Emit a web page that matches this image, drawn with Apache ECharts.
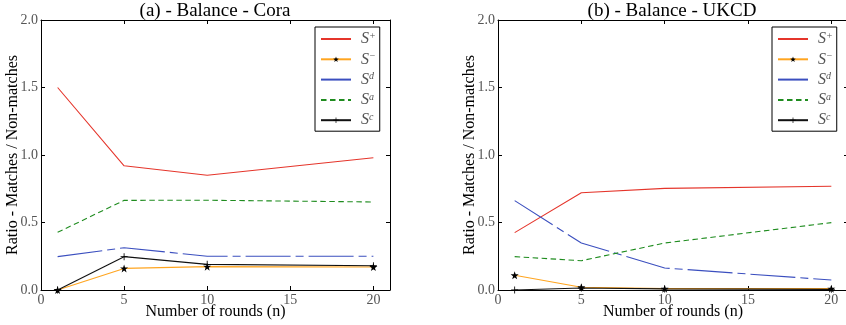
<!DOCTYPE html>
<html>
<head>
<meta charset="utf-8">
<script src="https://cdn.jsdelivr.net/npm/echarts@6/dist/echarts.min.js"></script>
<style>
  html, body { margin: 0; padding: 0; background: #fff; }
  #chart { width: 846px; height: 325px; }
</style>
</head>
<body>
<div id="chart"></div>
<script>
// x positions (number of rounds)
const rounds = [1, 5, 10, 20];
const seriesNames = ["S+", "S\u2212", "Sd", "Sa", "Sc"];
const xTicks = [0, 5, 10, 15, 20];
const yTicks = [0.0, 0.5, 1.0, 1.5, 2.0];

// (a) Cora
const coraPlus = [1.50, 0.92, 0.85, 0.98];
const coraMinus = [0.0, 0.16, 0.173, 0.17];
const coraD = [0.247, 0.313, 0.25, 0.25];
const coraA = [0.427, 0.664, 0.665, 0.652];
const coraC = [0.0, 0.247, 0.19, 0.18];

// (b) UKCD
const ukcdPlus = [0.425, 0.72, 0.753, 0.768];
const ukcdMinus = [0.109, 0.02, 0.01, 0.01];
const ukcdD = [0.662, 0.348, 0.163, 0.074];
const ukcdA = [0.247, 0.217, 0.348, 0.499];
const ukcdC = [0.0, 0.015, 0.008, 0.005];

const FONT = "'Liberation Serif', 'DejaVu Serif', serif";
const STAR = "path://M0,-10L2.35,-3.24L9.51,-3.09L3.8,1.24L5.88,8.09L0,4L-5.88,8.09L-3.8,1.24L-9.51,-3.09L-2.35,-3.24Z";
const PLUS = "path://M-1.2,-10H1.2V-1.2H10V1.2H1.2V10H-1.2V1.2H-10V-1.2H-1.2Z";

const styles = [
  { color: "#e5352b", type: "solid", symbol: "none" },
  { color: "#ffa520", type: "solid", symbol: STAR, symbolSize: 8 },
  { color: "#3b4fbf", type: [45, 5, 8, 5], symbol: "none" },
  { color: "#1f8c1f", type: [5.5, 3.5], symbol: "none" },
  { color: "#111111", type: "solid", symbol: PLUS, symbolSize: 7 }
];

const panels = [
  { title: "(a) - Balance - Cora", left: 41, width: 349, values: [coraPlus, coraMinus, coraD, coraA, coraC] },
  { title: "(b) - Balance - UKCD", left: 498, width: 350, values: [ukcdPlus, ukcdMinus, ukcdD, ukcdA, ukcdC] }
];

const grids = [], xAxes = [], yAxes = [], series = [], texts = [], legends = [];

panels.forEach((p, i) => {
  grids.push({ left: p.left, top: 20, width: p.width, height: 270, outerBoundsMode: "none", containLabel: false });
  texts.push({
    type: "text", x: p.left + 174, y: 11,
    style: { text: p.title, fontFamily: FONT, fontSize: 19, fill: "#000", align: "center", verticalAlign: "middle" }
  });
  const tickStyle = { show: true, inside: true, length: 4, lineStyle: { color: "#000", width: 1 } };
  const common = { min: 0, max: 21, interval: 5, gridIndex: i, splitLine: { show: false },
    axisLine: { show: true, onZero: false, lineStyle: { color: "#000", width: 1 } }, axisTick: tickStyle };
  xAxes.push(Object.assign({}, common, {
    type: "value", position: "bottom",
    name: "Number of rounds (n)", nameLocation: "middle", nameGap: 14, nameMoveOverlap: false,
    nameTextStyle: { fontFamily: FONT, fontSize: 16, color: "#000" },
    axisLabel: { show: true, showMaxLabel: false, margin: 3, color: "#555", fontFamily: FONT, fontSize: 14 }
  }));
  xAxes.push(Object.assign({}, common, { type: "value", position: "top", axisLabel: { show: false } }));
  const ycommon = { type: "value", min: 0, max: 2, interval: 0.5, gridIndex: i, splitLine: { show: false },
    axisLine: { show: true, onZero: false, lineStyle: { color: "#000", width: 1 } }, axisTick: tickStyle };
  yAxes.push(Object.assign({}, ycommon, {
    position: "left",
    name: "Ratio - Matches / Non-matches", nameLocation: "middle", nameGap: 20, nameMoveOverlap: false,
    nameTextStyle: { fontFamily: FONT, fontSize: 16, color: "#000" },
    axisLabel: { show: true, margin: 3, color: "#555", fontFamily: FONT, fontSize: 14,
      formatter: v => v.toFixed(1) }
  }));
  yAxes.push(Object.assign({}, ycommon, { position: "right", axisLabel: { show: false } }));

  p.values.forEach((vals, k) => {
    const st = styles[k];
    series.push({
      name: seriesNames[k], type: "line",
      xAxisIndex: i * 2, yAxisIndex: i * 2,
      data: rounds.map((r, j) => [r, vals[j]]),
      symbol: st.symbol, symbolSize: st.symbolSize || 0, showSymbol: st.symbol !== "none",
      itemStyle: { color: "#000", borderWidth: 0 },
      lineStyle: { color: st.color, width: 1.1, type: st.type },
      color: st.color,
      animation: false, z: 2 + k
    });
  });

  legends.push({
    data: seriesNames.map((n, k) => styles[k].symbol === "none"
      ? { name: n, itemStyle: { opacity: 0 } }
      : { name: n }),
    orient: "vertical",
    left: i === 0 ? 315 : 772, top: 27,
    padding: [4, 4, 3, 5], itemWidth: 30, itemHeight: 7, itemGap: 4.3,
    borderColor: "#000", borderWidth: 1, backgroundColor: "#fff",
    selectedMode: false,
    formatter: name => "{s|S}{p|" + name.slice(1) + "}",
    textStyle: {
      padding: [0, 0, 0, 5],
      rich: {
        s: { fontFamily: FONT, fontStyle: "italic", fontSize: 16, color: "#555" },
        p: { fontFamily: FONT, fontStyle: "italic", fontSize: 10, color: "#555", verticalAlign: "top" }
      }
    }
  });
});

const chart = echarts.init(document.getElementById("chart"), null, { renderer: "canvas" });
chart.setOption({
  backgroundColor: "#fff",
  animation: false,
  graphic: texts,
  legend: legends,
  grid: grids,
  xAxis: xAxes,
  yAxis: yAxes,
  series: series
});
</script>
</body>
</html>
